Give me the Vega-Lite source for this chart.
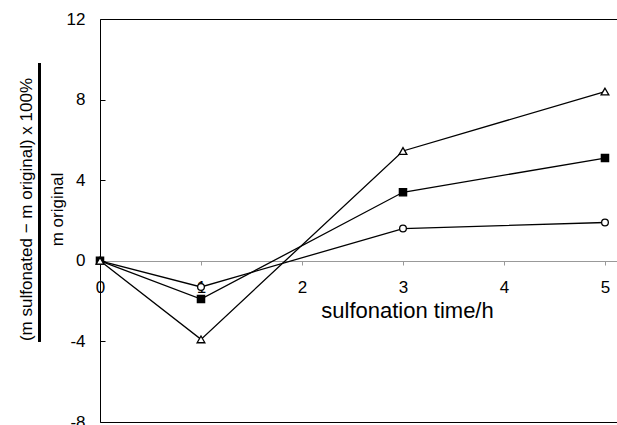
{
  "$schema": "https://vega.github.io/schema/vega-lite/v6.json",
  "width": 517,
  "height": 403,
  "autosize": "none",
  "padding": {"left": 100, "top": 19, "right": 0, "bottom": 3},
  "background": "white",
  "config": {
    "view": {"stroke": null},
    "font": "Liberation Sans",
    "axis": {"labelColor": "black", "titleColor": "black", "titleFontWeight": "normal"}
  },
  "data": {
    "values": [
      {"series": "circle", "time": 0, "value": 0},
      {"series": "circle", "time": 1, "value": -1.3},
      {"series": "circle", "time": 3, "value": 1.6},
      {"series": "circle", "time": 5, "value": 1.9},
      {"series": "square", "time": 0, "value": 0},
      {"series": "square", "time": 1, "value": -1.9},
      {"series": "square", "time": 3, "value": 3.4},
      {"series": "square", "time": 5, "value": 5.1},
      {"series": "triangle", "time": 0, "value": 0},
      {"series": "triangle", "time": 1, "value": -3.9},
      {"series": "triangle", "time": 3, "value": 5.45},
      {"series": "triangle", "time": 5, "value": 8.4}
    ]
  },
  "layer": [
    {
      "mark": {"type": "line", "color": "black", "strokeWidth": 1.3},
      "encoding": {
        "x": {
          "field": "time",
          "type": "quantitative",
          "scale": {"domain": [0, 5.119], "nice": false, "zero": false},
          "axis": {
            "values": [0, 1, 2, 3, 4, 5],
            "format": "d",
            "offset": -161,
            "domainColor": "#999999",
            "domainWidth": 1,
            "tickColor": "#999999",
            "tickSize": 4,
            "labelPadding": 14,
            "labelFontSize": 17,
            "labelFlush": false,
            "grid": false,
            "title": "sulfonation time/h",
            "titleFontSize": 22,
            "titleX": 307,
            "titleY": 56,
            "titleBaseline": "alphabetic",
            "titleAlign": "center"
          }
        },
        "y": {
          "field": "value",
          "type": "quantitative",
          "scale": {"domain": [-8, 12], "nice": false, "zero": false},
          "axis": {
            "values": [-8, -4, 0, 4, 8, 12],
            "format": "d",
            "domainColor": "black",
            "domainWidth": 1,
            "tickColor": "black",
            "tickSize": -5,
            "labelPadding": 20,
            "labelFontSize": 17,
            "labelFlush": false,
            "labelExpr": "replace(datum.label, '−', '-')",
            "grid": true,
            "gridColor": "black",
            "gridWidth": 1,
            "gridOpacity": {"condition": {"test": "datum.value == 12 || datum.value == -8", "value": 1}, "value": 0},
            "title": ["(m sulfonated − m original) x 100%", "m original"],
            "titleFontSize": 17,
            "titleLineHeight": 31,
            "titleAngle": -90,
            "titleBaseline": "middle",
            "titleAlign": "center",
            "titleX": -74,
            "titleY": 190
          }
        },
        "detail": {"field": "series"}
      }
    },
    {
      "mark": {"type": "point", "opacity": 1, "strokeWidth": 1.3, "stroke": "black"},
      "encoding": {
        "x": {"field": "time", "type": "quantitative"},
        "y": {"field": "value", "type": "quantitative"},
        "shape": {
          "field": "series",
          "scale": {"domain": ["circle", "square", "triangle"], "range": ["circle", "square", "triangle-up"]},
          "legend": null
        },
        "fill": {
          "field": "series",
          "scale": {"domain": ["circle", "square", "triangle"], "range": ["white", "black", "white"]},
          "legend": null
        },
        "size": {
          "field": "series",
          "type": "nominal",
          "scale": {"domain": ["circle", "square", "triangle"], "range": [45, 60, 60]},
          "legend": null
        }
      }
    },
    {
      "mark": {"type": "rule", "color": "black", "strokeWidth": 2, "clip": false},
      "encoding": {
        "x": {"datum": -0.6},
        "y": {"datum": -4},
        "y2": {"datum": 9.8}
      }
    }
  ]
}
